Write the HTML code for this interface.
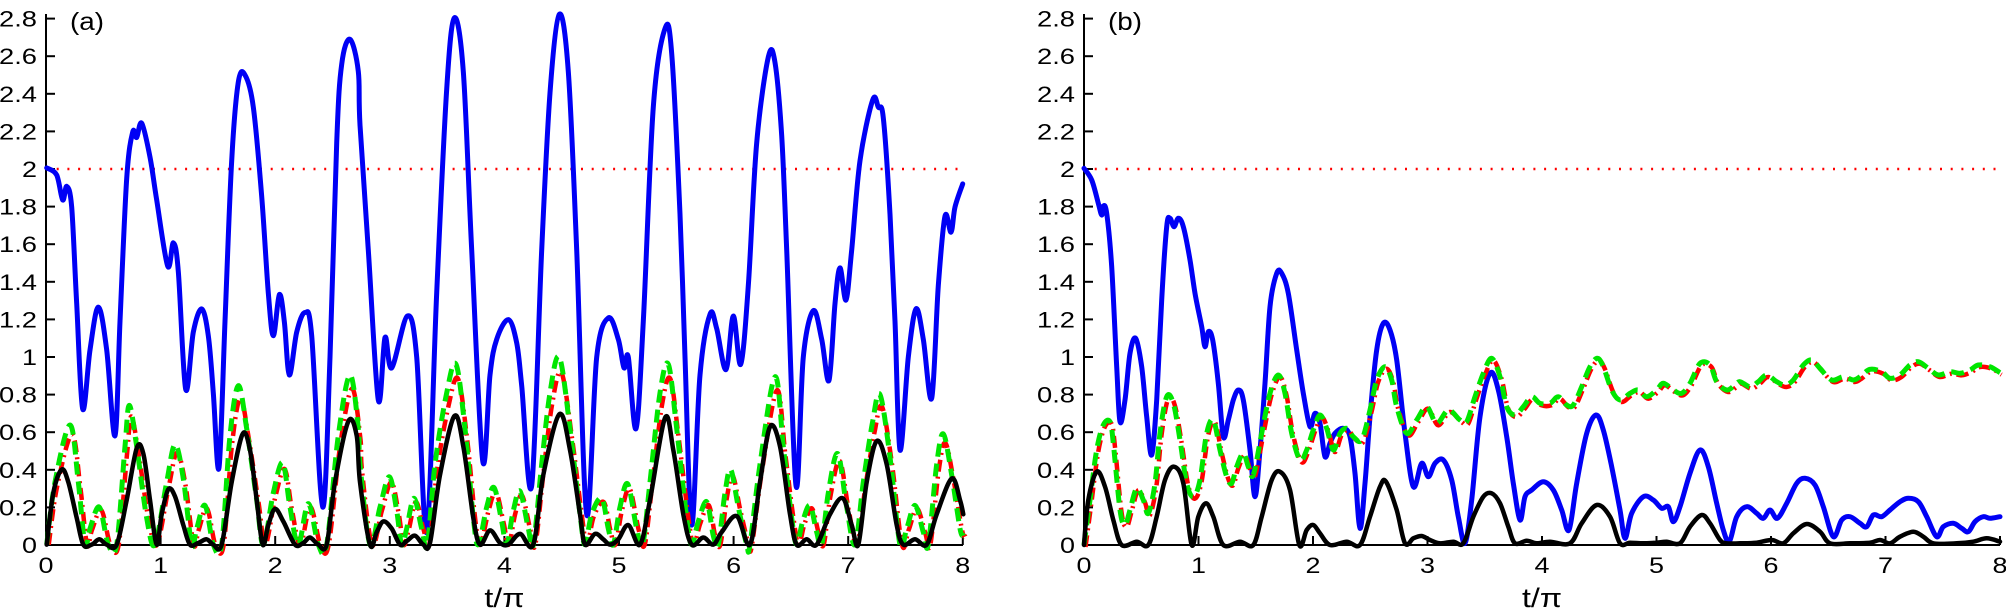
<!DOCTYPE html>
<html><head><meta charset="utf-8">
<style>
html,body{margin:0;padding:0;background:#fff;}
svg{display:block;}
text{font-family:"Liberation Sans",sans-serif;fill:#000;}
</style></head>
<body>
<svg id="s" width="2006" height="616" xmlns="http://www.w3.org/2000/svg"></svg>
<script>
const S=document.getElementById('s');
let h='';
function seg(ox,oy,sx,sy,a){const r=[];for(let i=0;i<a.length;i+=2)r.push([ox+a[i]/sx,oy+a[i+1]/sy]);return r;}
function mono(pts){const r=[];let lx=-1e9;for(const p of pts){if(p[0]>lx+0.5){r.push(p);lx=p[0];}}return r;}
function pl(pts,st){
  pts=mono(pts);
  let d='M'+pts[0][0].toFixed(1)+','+pts[0][1].toFixed(1);
  for(let i=0;i<pts.length-1;i++){
    const p0=pts[Math.max(0,i-1)],p1=pts[i],p2=pts[i+1],p3=pts[Math.min(pts.length-1,i+2)];
    const c1=[p1[0]+(p2[0]-p0[0])/6,p1[1]+(p2[1]-p0[1])/6];
    const c2=[p2[0]-(p3[0]-p1[0])/6,p2[1]-(p3[1]-p1[1])/6];
    d+=` C${c1[0].toFixed(1)},${c1[1].toFixed(1)} ${c2[0].toFixed(1)},${c2[1].toFixed(1)} ${p2[0].toFixed(1)},${p2[1].toFixed(1)}`;
  }
  h+=`<path d="${d}" fill="none" stroke-linejoin="round" ${st}/>`;}
function axes(x0,x1,sp,lab){
  const y0=545;
  h+=`<line x1="${x0}" y1="14" x2="${x0}" y2="${y0}" stroke="#000" stroke-width="2"/>`;
  h+=`<line x1="${x0}" y1="${y0}" x2="${x1}" y2="${y0}" stroke="#000" stroke-width="2"/>`;
  for(let k=0;k<=14;k++){const v=k*0.2;const y=545-v*188;
    h+=`<line x1="${x0}" y1="${y}" x2="${x0+9}" y2="${y}" stroke="#000" stroke-width="2"/>`;
    let t=(Math.round(v*10)/10).toString();
    let w=0;for(const c of t)w+=(c=='.')?8:15;
    h+=`<text x="${x0-9}" y="${y+8}" font-size="22" text-anchor="end" textLength="${w}" lengthAdjust="spacingAndGlyphs">${t}</text>`;}
  for(let k=0;k<=8;k++){const x=x0+k*sp;
    h+=`<line x1="${x}" y1="${y0}" x2="${x}" y2="${y0-9}" stroke="#000" stroke-width="2"/>`;
    h+=`<text x="${x}" y="573" font-size="22" text-anchor="middle" textLength="15" lengthAdjust="spacingAndGlyphs">${k}</text>`;}
  h+=`<text x="${x0+4*sp}" y="607" font-size="27" text-anchor="middle" textLength="40" lengthAdjust="spacingAndGlyphs">t/π</text>`;
  h+=`<text x="${x0+24}" y="30" font-size="25" textLength="34" lengthAdjust="spacingAndGlyphs">${lab}</text>`;
  h+=`<line x1="${x0}" y1="169" x2="${x1}" y2="169" stroke="#f00" stroke-width="2.5" stroke-dasharray="2,8.7"/>`;
}
axes(46,963,114.6,'(a)');
axes(1084,2000,114.5,'(b)');
const BL='stroke="#0000f5" stroke-width="5" stroke-linecap="round"';
const BK='stroke="#000" stroke-width="4.5" stroke-linecap="round"';
const RD='stroke="#f00" stroke-width="4.5" stroke-dasharray="12,5,2,5"';
const GR='stroke="#00e600" stroke-width="5" stroke-dasharray="13,7"';
function redOf(pts){return pts.map(p=>[p[0]+2,545-(545-p[1])*0.92]);}
// ---------- panel a ----------
const aBlue=[].concat(
 seg(40,0,3,2.8,[20,470,50,490,68,560,80,522,95,580,110,850,128,1145,150,980,175,860,200,980,225,1220,240,900,260,500,278,370,290,385,305,345,330,440,350,560,383,745,400,680,415,760,437,1090,460,930,485,865,505,940,520,1100,537,1310,555,900,575,450,595,230,615,210,640,300,665,550,685,820,700,940,718,825,733,900,748,1050,770,930,795,875,815,940,848,1420,870,1000,890,400,905,180,930,110,955,200]),
 seg(350,0,3,2.8,[30,350,55,700,85,1120,105,945,125,1030,172,885,200,1000,230,1490,260,820,290,250,313,50,340,200,365,700,398,1290,420,1050,440,950,475,895,500,960,515,1080,545,1360,575,700,600,260,628,40,655,200,680,700,710,1440,740,1000,775,890,805,950,822,1030,835,1000,858,1200,880,900,910,300,945,80]),
 seg(650,0,3,2.8,[65,150,90,600,105,1000,125,1470,150,1050,180,880,200,920,228,1035,250,885,272,1020,295,800,320,400,355,160,375,175,395,380,410,700,438,1360,460,1000,490,870,515,950,537,1065,555,850,570,750,588,840,605,700,630,450,668,280,685,300,700,330,720,600,735,900,750,1260,775,1000,798,865,820,950,845,1115,865,800,885,605,903,650,915,580,938,515]));
const aBlack=[].concat(
 seg(40,0,3,2.8,[20,1525,40,1380,65,1315,85,1350,110,1450,130,1525,155,1525,178,1510,200,1525,230,1525,260,1400,290,1255,310,1270,330,1400,350,1525,365,1440,385,1370,405,1390,430,1470,450,1525,475,1520,500,1510,520,1525,545,1525,575,1350,608,1215,630,1260,650,1400,668,1525,685,1470,705,1425,730,1460,765,1525,790,1520,810,1505,835,1525,860,1525,885,1350,925,1180,950,1220]),
 seg(350,0,3,2.8,[0,1185,30,1350,60,1525,80,1490,100,1460,125,1480,150,1525,170,1515,195,1500,220,1525,240,1520,270,1330,313,1165,340,1250,370,1450,390,1525,420,1485,450,1520,475,1525,510,1495,550,1525,580,1330,628,1160,660,1260,690,1440,705,1525,735,1495,760,1510,780,1525,805,1510,835,1470,870,1525,900,1400,945,1170]),
 seg(650,0,3,2.8,[42,1170,70,1260,100,1440,125,1525,160,1505,190,1525,215,1490,260,1445,300,1525,330,1350,360,1195,390,1250,420,1440,440,1525,470,1510,500,1525,540,1440,578,1395,605,1470,625,1525,650,1350,680,1235,710,1300,740,1470,760,1525,795,1510,830,1525,860,1440,905,1340,930,1400,940,1440]));
const aGreen=[].concat(
 seg(40,0,3,2.8,[20,1525,45,1350,90,1190,115,1350,135,1525,150,1480,178,1420,205,1525,230,1525,255,1250,268,1135,290,1250,320,1450,345,1525,380,1350,405,1245,430,1340,455,1525,470,1480,495,1415,520,1525,545,1525,570,1220,595,1080,620,1200,650,1400,670,1525,700,1380,728,1295,750,1420,775,1525,805,1410,835,1525,860,1525,895,1220,930,1050,955,1200]),
 seg(350,0,3,2.8,[0,1060,30,1300,60,1525,90,1420,118,1335,140,1430,155,1525,170,1480,192,1395,215,1480,232,1525,255,1300,290,1100,318,1020,345,1200,370,1450,385,1525,410,1420,432,1365,455,1460,470,1525,490,1430,510,1375,535,1480,550,1525,575,1300,600,1100,628,1000,660,1200,690,1440,705,1525,725,1440,755,1395,775,1480,790,1525,810,1420,833,1355,860,1480,878,1525,900,1350,930,1100,955,1020]),
 seg(650,0,3,2.8,[30,1100,55,1020,80,1200,110,1450,125,1525,145,1460,170,1405,190,1500,205,1525,225,1380,242,1315,265,1420,290,1525,300,1525,330,1300,375,1055,400,1250,425,1450,440,1525,458,1460,480,1415,500,1490,515,1525,535,1380,563,1270,590,1420,615,1525,640,1350,668,1180,690,1105,720,1280,750,1525,770,1480,795,1415,820,1490,835,1525,860,1300,880,1215,905,1330,930,1480,940,1500]));
pl(aBlue,BL);
pl(redOf(aGreen),RD);
pl(aGreen,GR);
pl(aBlack,BK);
// ---------- panel b ----------
const bBlue=[].concat(
 seg(1080,100,3,3,[12,205,35,240,55,310,65,345,70,318,80,340,95,500,110,800,120,965,135,900,150,760,167,715,185,800,200,950,215,1065,230,900,245,600,260,380,270,355,282,380,295,355,310,380,330,480,345,580,365,680,375,740,385,695,398,720,415,850,430,1010,445,960,460,900,475,870,490,900,510,1050,525,1190,540,1050,555,850,570,620,590,520,605,520,625,580,650,750,670,880,690,980,705,940,720,970,735,1070,750,1030,765,1000,790,985,810,1010,825,1120,840,1285,855,1150,870,950,890,750,910,670,930,690]),
 seg(1390,250,3,3,[0,230,20,330,45,550,70,710,95,640,115,680,135,640,160,630,185,690,205,800,225,880,245,750,270,500,300,370,325,420,350,560,370,700,390,810,405,740,425,720,460,695,490,720,515,780,537,840,560,700,590,550,618,495,640,540,665,650,690,780,705,865,725,790,760,740,790,750,815,775,835,770,850,815,870,770,900,670,930,600]),
 seg(1690,250,3,3,[55,650,80,760,100,840,118,875,140,800,170,770,200,790,220,805,240,780,262,805,290,760,320,700,345,685,375,705,400,770,430,860,455,810,480,800,510,820,530,830,550,795,575,800,600,780,630,755,655,745,685,755,710,800,740,860,760,830,790,820,815,835,835,845,855,815,880,800,900,805,930,800]));
const bBlack=[].concat(
 seg(1080,100,3,3,[12,1335,25,1200,50,1115,75,1160,100,1260,125,1335,170,1325,205,1335,230,1250,255,1140,282,1100,310,1150,335,1335,355,1250,378,1210,400,1250,430,1335,480,1325,520,1335,545,1250,575,1140,600,1115,630,1170,658,1335,680,1290,700,1275,720,1300,750,1335,800,1325,840,1335,870,1250,900,1160,918,1145]),
 seg(1390,250,3,3,[20,780,45,880,70,865,95,858,120,870,150,880,190,875,220,880,250,800,280,740,305,730,330,760,355,830,375,880,410,872,440,880,480,875,540,880,575,820,620,765,660,800,690,880,720,878,760,880,800,878,830,875,870,880,900,830,935,795]),
 seg(1690,250,3,3,[60,820,90,870,110,880,150,880,200,878,245,870,280,880,310,850,350,822,390,845,420,880,480,880,540,878,570,870,600,880,630,860,670,845,700,860,730,880,800,880,850,875,890,865,930,875]));
const bGreen=[].concat(
 seg(1080,100,3,3,[12,1335,30,1200,50,1050,70,975,90,965,100,1030,120,1230,135,1275,150,1230,170,1165,190,1200,205,1240,225,1150,240,1000,260,890,280,910,300,1020,320,1150,340,1190,360,1140,380,1000,400,960,420,1050,440,1130,455,1150,470,1100,490,1060,505,1100,520,1125,545,1000,570,880,595,825,615,880,635,1000,660,1080,680,1050,700,990,720,945,740,985,760,1050,780,1000,800,985,820,1010,845,1020,870,930,890,840,915,800,935,840]),
 seg(1390,250,3,3,[20,470,50,550,80,510,110,470,140,520,175,480,210,510,230,515,255,440,280,370,305,325,330,380,350,470,375,495,400,470,425,440,450,460,480,460,505,440,530,465,550,465,575,410,600,350,622,325,640,350,665,420,690,450,720,430,745,420,770,440,800,420,820,400,850,420,875,430,900,400,930,340]),
 seg(1690,250,3,3,[60,345,80,395,110,420,135,405,150,395,180,410,205,395,230,375,260,395,285,405,310,390,340,345,365,330,390,355,425,390,460,380,490,390,510,380,540,358,575,365,600,385,630,375,660,345,685,335,715,355,745,375,780,365,810,370,840,360,865,345,900,350,930,368]));
pl(bBlue,BL);
pl(bGreen.map(p=>[p[0]+1.5,p[1]+2]),RD);
pl(bGreen,GR);
pl(bBlack,BK);
S.innerHTML=h;
</script>
</body></html>
